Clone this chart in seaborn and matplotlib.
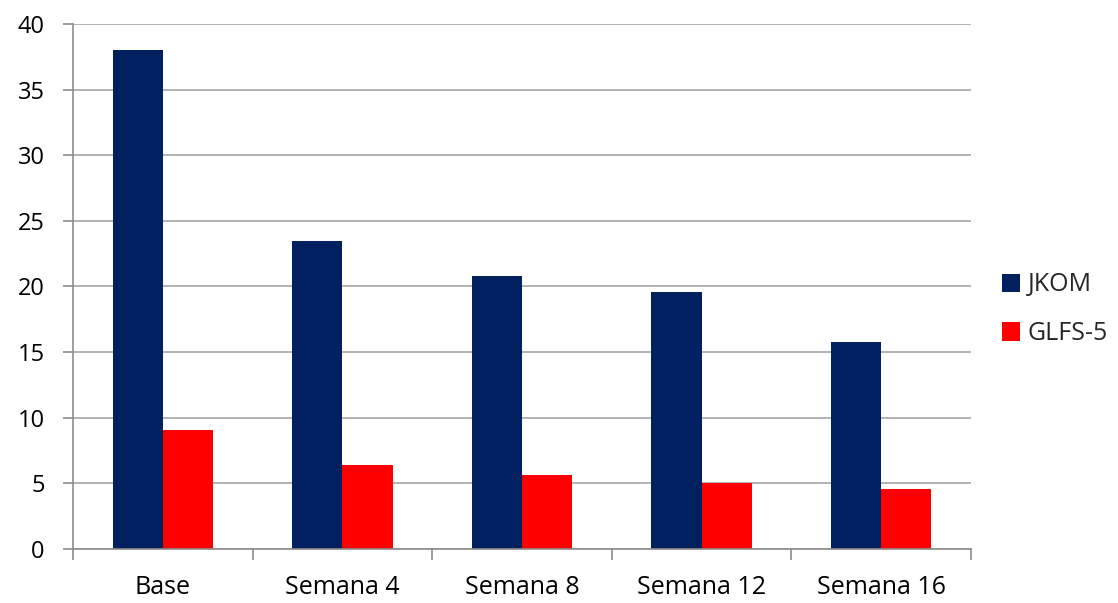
import matplotlib
matplotlib.use("Agg")
import matplotlib.pyplot as plt
import seaborn as sns
import pandas as pd
from matplotlib.patches import Patch
from matplotlib.ticker import FixedLocator

categories = ["Base", "Semana 4", "Semana 8", "Semana 12", "Semana 16"]
jkom = [38.0, 23.5, 20.8, 19.6, 15.8]
glfs5 = [9.1, 6.4, 5.6, 5.0, 4.6]
series_names = ["JKOM", "GLFS-5"]
colors = ["#002060", "#FF0000"]

df = pd.DataFrame({
    "cat": categories * 2,
    "val": jkom + glfs5,
    "serie": [series_names[0]] * len(categories) + [series_names[1]] * len(categories),
})

sns.set_theme(style="white")
plt.rcParams["font.family"] = ["Open Sans", "DejaVu Sans"]

fig = plt.figure(figsize=(11.18, 6.03), dpi=100)
ax = fig.add_axes([0.0653, 0.0896, 0.8032, 0.8706])

sns.barplot(data=df, x="cat", y="val", hue="serie", order=categories,
            hue_order=series_names, palette=colors, width=0.56,
            saturation=1, ax=ax, legend=False, edgecolor="none")

ax.set_xlim(-0.5, len(categories) - 0.5)
ax.set_ylim(0, 40)
ax.set_yticks(range(0, 41, 5))
ax.yaxis.grid(True, color="#a6a6a6", linewidth=1.2)
ax.set_axisbelow(True)
ax.set_xlabel("")
ax.set_ylabel("")

for s in ["top", "right"]:
    ax.spines[s].set_visible(False)
for s in ["left", "bottom"]:
    ax.spines[s].set_color("#8c8c8c")
    ax.spines[s].set_linewidth(1.2)

ax.xaxis.set_minor_locator(FixedLocator([i - 0.5 for i in range(len(categories) + 1)]))
ax.tick_params(axis="x", which="major", length=0, pad=19, labelsize=18, colors="black")
ax.tick_params(axis="x", which="minor", length=8, width=1.2, color="#8c8c8c", bottom=True)
ax.tick_params(axis="y", which="major", length=7.5, width=1.2, color="#8c8c8c",
               left=True, labelsize=17, pad=13, labelcolor="black")

handles = [Patch(facecolor=c, edgecolor="none", label=n) for c, n in zip(colors, series_names)]
fig.legend(handles=handles, loc="center left", bbox_to_anchor=(0.896, 0.487),
           frameon=False, fontsize=18, handlelength=0.75, handleheight=0.75,
           handletextpad=0.3, labelspacing=0.95, borderaxespad=0, borderpad=0)

fig.savefig("out.png", dpi=100)
